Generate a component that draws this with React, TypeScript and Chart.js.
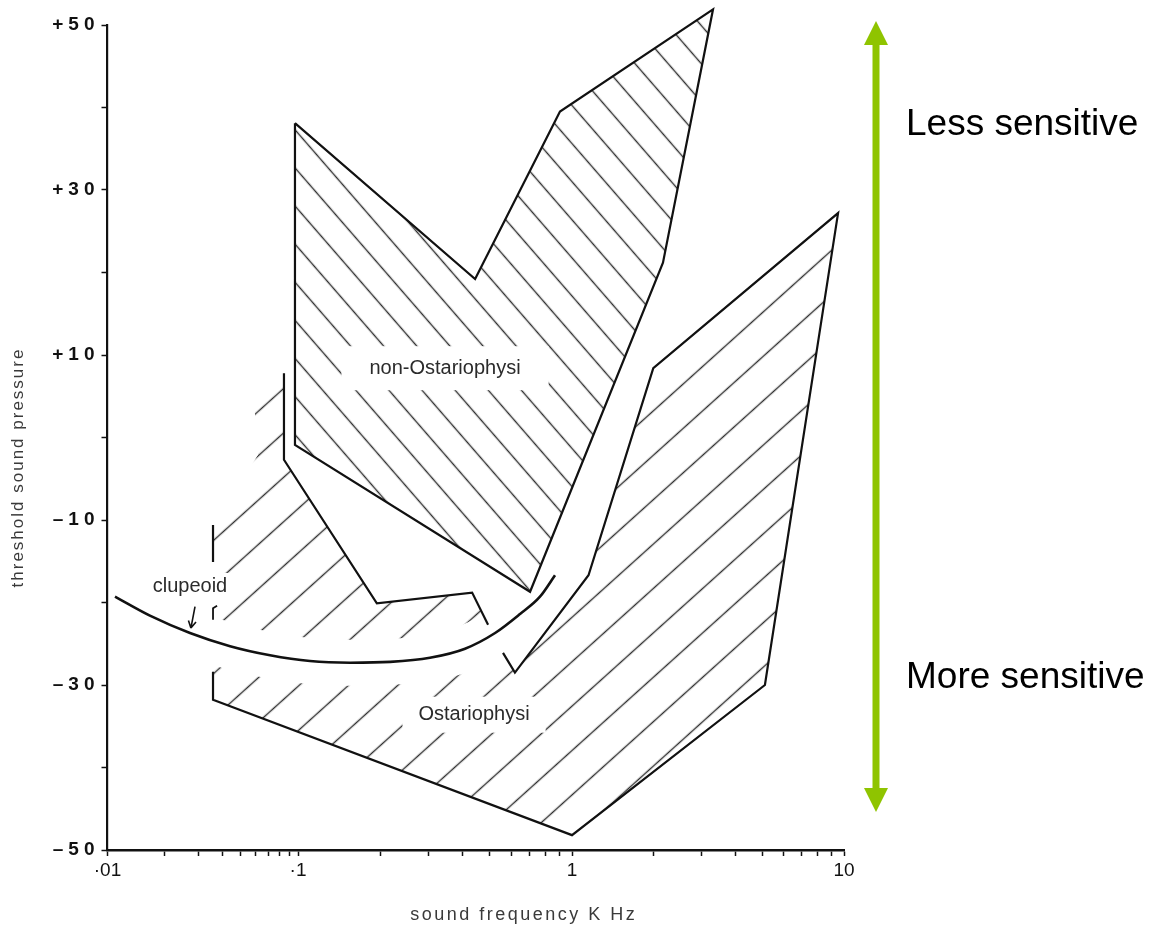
import React, { useEffect, useRef } from 'react';
import { Chart, registerables, LinearScale, LogarithmicScale } from 'chart.js';

// ---- Hearing threshold outlines: frequency (kHz) against threshold sound pressure (dB) ----

// non-Ostariophysi range (closed polygon)
const nonOstKHz = [0.0964, 0.443, 0.904, 3.3, 2.16, 0.703, 0.0964, 0.0964];
const nonOstDb = [38.1, 19.2, 39.5, 51.9, 21.2, -18.7, -0.9, 38.1];

// Ostariophysi hatched area (closed polygon, includes the low-frequency lobe)
const ostAreaKHz = [0.0358, 0.0358, 0.0617, 0.0574, 0.0844, 0.0844, 0.194, 0.432, 0.494, 0.56, 0.619, 1.15, 1.99, 9.51, 5.12, 1.0, 0.0358, 0.0358];
const ostAreaDb = [-24.5, -10.8, -2.1, 7.5, 7.8, -2.7, -20.1, -18.8, -22.7, -26.1, -28.5, -16.7, 8.4, 27.2, -30.0, -48.2, -31.8, -24.5];

// Ostariophysi drawn boundary
const ostEdgeKHz = [0.0358, 0.0358, 1.0, 5.12, 9.51, 1.99, 1.15, 0.619, 0.56];
const ostEdgeDb = [-28.4, -31.8, -48.2, -30.0, 27.2, 8.4, -16.7, -28.5, -26.1];

// short boundary pieces on the low-frequency side
const ostStubKHz = [0.0358, 0.0358];
const ostStubDb = [-10.6, -15.1];
const ostMarkKHz = [0.0358, 0.0358, 0.0376];
const ostMarkDb = [-22.1, -20.7, -20.4];
const upperEdgeKHz = [0.0844, 0.0844, 0.194, 0.432, 0.494];
const upperEdgeDb = [7.8, -2.7, -20.1, -18.8, -22.7];

// clupeoid threshold curve
const clupeoidKHz = [0.01095, 0.0167, 0.0271, 0.044, 0.0713, 0.1106, 0.155, 0.217, 0.303, 0.407, 0.524, 0.646, 0.764, 0.867];
const clupeoidDb = [-19.3, -21.6, -23.7, -25.3, -26.4, -27.1, -27.3, -27.2, -26.7, -25.6, -23.7, -21.4, -19.3, -16.7];

// pointer from the "clupeoid" label to its curve (tail, tip)
const pointerKHz = [0.0288, 0.0274];
const pointerDb = [-20.5, -23.1];

// region labels
const regionLabels = ['non-Ostariophysi', 'Ostariophysi', 'clupeoid'];
const regionLabelKHz = [0.344, 0.439, 0.0271];
const regionLabelDb = [8.4, -33.6, -18.0];

// axes
const freqTicks = [0.01, 0.02, 0.03, 0.04, 0.05, 0.06, 0.07, 0.08, 0.09, 0.1, 0.2, 0.3, 0.4, 0.5, 0.6, 0.7, 0.8, 0.9, 1, 2, 3, 4, 5, 6, 7, 8, 9, 10];
const freqLabelAt = [0.01, 0.1, 1, 10];
const freqLabels = ['·01', '·1', '1', '10'];
const dbLabelAt = [50, 30, 10, -10, -30, -50];
const dbLabels = ['+50', '+30', '+10', '–10', '–30', '–50'];

// sensitivity arrow span (dB) and its captions
const arrowDb = [50.5, -45.4];
const sensitivityText = ['Less sensitive', 'More sensitive'];

// relative drawn widths of the three frequency decades (.01–.1, .1–1, 1–10)
const decadeWidths = [190.5, 274, 272];

const FONT = '"Liberation Sans", Arial, Helvetica, sans-serif';
const INK = '#111';

// Log axis whose decades may have unequal drawn widths
class DecadeLogScale extends LogarithmicScale {
  static id = 'decadeLog';
  static defaults = LogarithmicScale.defaults;

  decimalFor(v: number): number {
    const total = decadeWidths.reduce((a, b) => a + b, 0);
    let d = Math.log10(v) - Math.log10(this.min);
    let acc = 0;
    for (let i = 0; i < decadeWidths.length; i++) {
      const w = decadeWidths[i];
      if (d <= 1 || i === decadeWidths.length - 1) return (acc + d * w) / total;
      acc += w;
      d -= 1;
    }
    return acc / total;
  }

  getPixelForValue(value: any): number {
    if (value === undefined || value === 0) value = this.min;
    if (value === null || isNaN(value)) return NaN;
    return this.getPixelForDecimal(this.decimalFor(value));
  }

  getValueForPixel(pixel: number): number {
    const total = decadeWidths.reduce((a, b) => a + b, 0);
    let pos = this.getDecimalForPixel(pixel) * total;
    let dec = 0;
    for (let i = 0; i < decadeWidths.length; i++) {
      const w = decadeWidths[i];
      if (pos <= w || i === decadeWidths.length - 1) {
        dec += pos / w;
        break;
      }
      pos -= w;
      dec += 1;
    }
    return this.min * Math.pow(10, dec);
  }
}

// Linear axis with letter-spaced tick labels
class SpacedLinearScale extends LinearScale {
  static id = 'spacedLinear';
  static defaults = LinearScale.defaults;

  drawLabels(area: any) {
    const ctx = this.ctx as any;
    ctx.save();
    ctx.letterSpacing = '5px';
    super.drawLabels(area);
    ctx.restore();
  }
}

Chart.register(...registerables, DecadeLogScale, SpacedLinearScale);

const pts = (xs: number[], ys: number[]) => xs.map((x, i) => ({ x, y: ys[i] }));

function hatch(ctx: CanvasRenderingContext2D, angleDeg: number, spacing: number): CanvasPattern {
  const tile = document.createElement('canvas');
  tile.width = 16;
  tile.height = spacing;
  const t = tile.getContext('2d')!;
  t.fillStyle = '#2e2e2e';
  t.fillRect(0, spacing / 2 - 0.7, 16, 1.4);
  const pattern = ctx.createPattern(tile, 'repeat')!;
  pattern.setTransform(new DOMMatrix().rotateSelf(angleDeg));
  return pattern;
}

// Fills a dataset's closed outline with its hatch pattern (not clipped to the plot area)
const hatchFill = {
  id: 'hatchFill',
  beforeDatasetDraw(chart: any, args: any) {
    const ds = chart.data.datasets[args.index];
    const line = args.meta.dataset;
    if (!ds.hatch || !line) return;
    const ctx = chart.ctx;
    ctx.save();
    ctx.beginPath();
    line.path(ctx);
    ctx.closePath();
    ctx.fillStyle = ds.hatch;
    ctx.fill();
    ctx.restore();
  },
};

const annotations = {
  id: 'annotations',
  afterDatasetsDraw(chart: any) {
    const { ctx, scales } = chart;
    const x = scales.x;
    const y = scales.y;
    ctx.save();
    ctx.font = `20px ${FONT}`;
    ctx.textAlign = 'center';
    ctx.textBaseline = 'middle';
    const pads = [[28, 12], [16, 8], [3, 3]];
    regionLabels.forEach((text, i) => {
      const px = x.getPixelForValue(regionLabelKHz[i]);
      const py = y.getPixelForValue(regionLabelDb[i]);
      const w = ctx.measureText(text).width;
      const [padX, padY] = pads[i];
      ctx.fillStyle = '#fff';
      ctx.fillRect(px - w / 2 - padX, py - 10 - padY, w + 2 * padX, 20 + 2 * padY);
      ctx.fillStyle = '#2b2b2b';
      ctx.fillText(text, px, py);
    });

    // small pointer arrow
    const sx = x.getPixelForValue(pointerKHz[0]);
    const sy = y.getPixelForValue(pointerDb[0]);
    const tx = x.getPixelForValue(pointerKHz[1]);
    const ty = y.getPixelForValue(pointerDb[1]);
    const ang = Math.atan2(ty - sy, tx - sx);
    ctx.strokeStyle = INK;
    ctx.lineWidth = 1.6;
    ctx.beginPath();
    ctx.moveTo(sx, sy);
    ctx.lineTo(tx, ty);
    for (const s of [-1, 1]) {
      ctx.moveTo(tx, ty);
      ctx.lineTo(tx - 8 * Math.cos(ang + s * 0.5), ty - 8 * Math.sin(ang + s * 0.5));
    }
    ctx.stroke();
    ctx.restore();
  },
  afterDraw(chart: any) {
    const { ctx, chartArea, scales } = chart;
    const y = scales.y;
    ctx.save();

    // axis titles
    ctx.fillStyle = '#3a3a3a';
    ctx.textAlign = 'center';
    ctx.textBaseline = 'middle';
    ctx.font = `18px ${FONT}`;
    (ctx as any).letterSpacing = '2.5px';
    ctx.fillText('sound frequency K Hz', (chartArea.left + chartArea.right) / 2 + 48, chartArea.bottom + 65);
    ctx.font = `17px ${FONT}`;
    (ctx as any).letterSpacing = '2px';
    ctx.translate(18, (chartArea.top + chartArea.bottom) / 2 + 30);
    ctx.rotate(-Math.PI / 2);
    ctx.fillText('threshold sound pressure', 0, 0);
    ctx.restore();

    // sensitivity arrow
    ctx.save();
    const ax = chartArea.right + 32;
    const top = y.getPixelForValue(arrowDb[0]);
    const bot = y.getPixelForValue(arrowDb[1]);
    const green = '#8fc400';
    ctx.strokeStyle = green;
    ctx.fillStyle = green;
    ctx.lineWidth = 7;
    ctx.beginPath();
    ctx.moveTo(ax, top + 20);
    ctx.lineTo(ax, bot - 20);
    ctx.stroke();
    ctx.beginPath();
    ctx.moveTo(ax, top);
    ctx.lineTo(ax - 12, top + 24);
    ctx.lineTo(ax + 12, top + 24);
    ctx.closePath();
    ctx.fill();
    ctx.beginPath();
    ctx.moveTo(ax, bot);
    ctx.lineTo(ax - 12, bot - 24);
    ctx.lineTo(ax + 12, bot - 24);
    ctx.closePath();
    ctx.fill();

    ctx.fillStyle = '#000';
    ctx.font = `37px ${FONT}`;
    ctx.textAlign = 'left';
    ctx.textBaseline = 'alphabetic';
    ctx.fillText(sensitivityText[0], ax + 30, 135);
    ctx.fillText(sensitivityText[1], ax + 30, 688);
    ctx.restore();
  },
};

export default function App() {
  const ref = useRef<HTMLCanvasElement>(null);

  useEffect(() => {
    const canvas = ref.current!;
    const ctx = canvas.getContext('2d')!;
    const nonOstHatch = hatch(ctx, 49, 25);
    const ostHatch = hatch(ctx, -42, 33);

    const edge = (data: { x: number; y: number }[], order: number, width = 2.2) => ({
      data,
      borderColor: INK,
      borderWidth: width,
      fill: false,
      clip: false,
      order,
    });

    const chart = new Chart(ctx, {
      type: 'line',
      data: {
        datasets: [
          {
            data: pts(ostAreaKHz, ostAreaDb),
            borderWidth: 0,
            borderColor: 'rgba(0,0,0,0)',
            hatch: ostHatch,
            fill: false,
            clip: false,
            order: 40,
          },
          {
            // clear channel around the clupeoid curve
            data: pts(clupeoidKHz, clupeoidDb),
            borderColor: '#fff',
            borderWidth: 46,
            borderCapStyle: 'round',
            cubicInterpolationMode: 'monotone',
            fill: false,
            clip: { left: -4, top: 0, right: 0, bottom: 0 },
            order: 30,
          },
          {
            data: pts(nonOstKHz, nonOstDb),
            borderColor: INK,
            borderWidth: 2.2,
            hatch: nonOstHatch,
            fill: false,
            clip: false,
            order: 20,
          },
          edge(pts(ostEdgeKHz, ostEdgeDb), 10),
          edge(pts(ostStubKHz, ostStubDb), 10),
          edge(pts(ostMarkKHz, ostMarkDb), 10, 1.8),
          edge(pts(upperEdgeKHz, upperEdgeDb), 10),
          {
            data: pts(clupeoidKHz, clupeoidDb),
            borderColor: INK,
            borderWidth: 2.6,
            cubicInterpolationMode: 'monotone',
            fill: false,
            clip: false,
            order: 5,
          },
        ] as any,
      },
      options: {
        animation: false,
        responsive: true,
        maintainAspectRatio: false,
        events: [],
        layout: { padding: { left: 0, top: 25, right: 308, bottom: 0 } },
        elements: { point: { radius: 0 }, line: { tension: 0 } },
        plugins: { legend: { display: false }, tooltip: { enabled: false } },
        scales: {
          x: {
            type: 'decadeLog' as any,
            min: 0.01,
            max: 10,
            afterFit: (s: any) => {
              s.height = 78;
            },
            afterBuildTicks: (s: any) => {
              s.ticks = freqTicks.map((v) => ({ value: v }));
            },
            grid: { drawOnChartArea: false, drawTicks: true, tickLength: 6, tickWidth: 1.5, tickColor: INK },
            border: { display: true, color: INK, width: 2.6 },
            ticks: {
              autoSkip: false,
              maxRotation: 0,
              padding: 3,
              color: INK,
              font: { size: 19, family: FONT },
              callback: (v: any) => {
                const i = freqLabelAt.findIndex((f) => Math.abs(f - Number(v)) < 1e-9);
                return i >= 0 ? freqLabels[i] : '';
              },
            },
          },
          y: {
            type: 'spacedLinear' as any,
            min: -50,
            max: 50,
            afterFit: (s: any) => {
              s.width = 107.5;
            },
            grid: { drawOnChartArea: false, drawTicks: true, tickLength: 6, tickWidth: 1.5, tickColor: INK },
            border: { display: true, color: INK, width: 2.2 },
            ticks: {
              stepSize: 10,
              padding: 2,
              color: INK,
              font: { size: 19, weight: 'bold', family: FONT },
              callback: (v: any) => {
                const i = dbLabelAt.indexOf(Number(v));
                return i >= 0 ? dbLabels[i] : '';
              },
            },
          },
        },
      },
      plugins: [hatchFill, annotations],
    } as any);

    return () => chart.destroy();
  }, []);

  return (
    <div style={{ position: 'fixed', left: 0, top: 0, width: 1152, height: 928, background: '#fff' }}>
      <canvas ref={ref} />
    </div>
  );
}
